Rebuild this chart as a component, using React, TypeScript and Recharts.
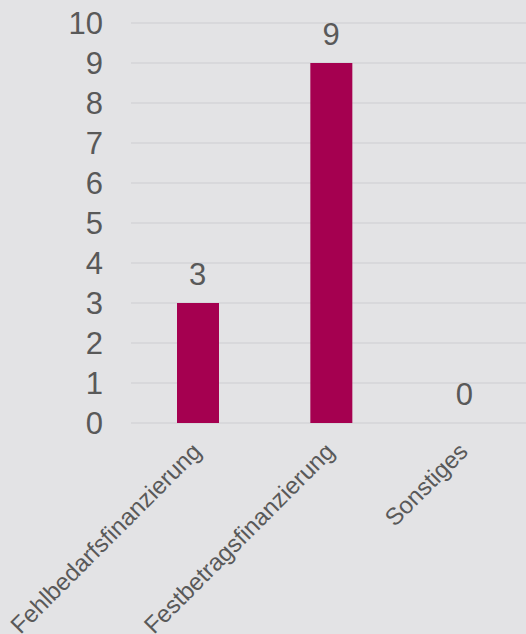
import React from 'react';
import { ComposedChart, Bar, Line, XAxis, YAxis, CartesianGrid, LabelList } from 'recharts';

const categories = ['Fehlbedarfsfinanzierung', 'Festbetragsfinanzierung', 'Sonstiges'];
const values = [3, 9, 0];
const yTicks = [0, 1, 2, 3, 4, 5, 6, 7, 8, 9, 10];

const data = categories.map((name, i) => ({ name, value: values[i] }));

const FONT = '"Liberation Sans", Arial, sans-serif';
const TEXT = '#595959';

const XTick = (props: any) => {
  const { x, y, payload } = props;
  return (
    <text
      x={x + 5}
      y={y + 30}
      textAnchor="end"
      transform={`rotate(-45, ${x + 5}, ${y + 30})`}
      fill={TEXT}
      fontSize={24}
      fontFamily={FONT}
    >
      {payload.value}
    </text>
  );
};

export default function App() {
  return (
    <div
      style={{
        position: 'absolute',
        top: 0,
        left: 0,
        width: 526,
        height: 634,
        overflow: 'hidden',
        background: '#e3e3e5',
      }}
    >
      <ComposedChart
        width={531}
        height={634}
        data={data}
        margin={{ top: 23, right: 0, left: 0, bottom: 0 }}
        barCategoryGap={0}
      >
        <CartesianGrid vertical={false} stroke="#d5d5d7" strokeWidth={1.5} />
        <XAxis
          dataKey="name"
          axisLine={false}
          tickLine={false}
          tickSize={0}
          tickMargin={0}
          height={211}
          interval={0}
          tick={<XTick />}
        />
        <YAxis
          domain={[0, 10]}
          ticks={yTicks}
          interval={0}
          width={131}
          axisLine={false}
          tickLine={false}
          tickSize={0}
          tickMargin={28}
          tick={{ fill: TEXT, fontSize: 31, fontFamily: FONT }}
        />
        <Bar dataKey="value" fill="#a50050" barSize={42} isAnimationActive={false} />
        <Line
          dataKey="value"
          stroke="none"
          dot={false}
          activeDot={false}
          legendType="none"
          isAnimationActive={false}
        >
          <LabelList
            dataKey="value"
            position="top"
            offset={18}
            fill={TEXT}
            fontSize={31}
            fontFamily={FONT}
          />
        </Line>
      </ComposedChart>
    </div>
  );
}
